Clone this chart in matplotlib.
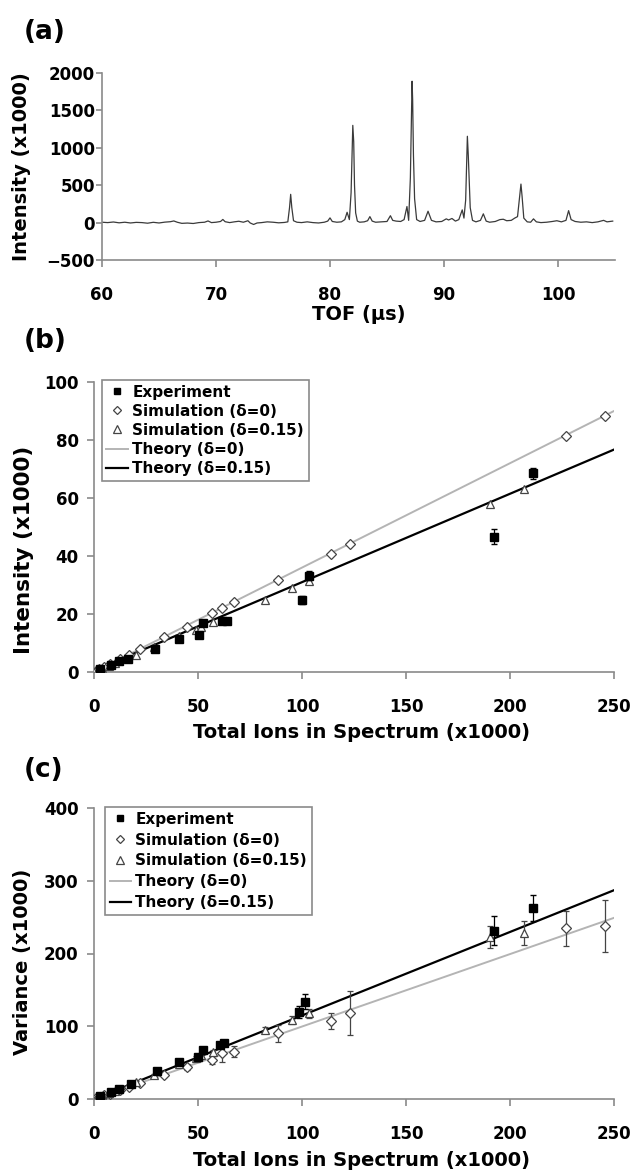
import matplotlib
matplotlib.use("Agg")
import matplotlib.pyplot as plt
from matplotlib.lines import Line2D

W, H = 634, 1173
plt.rcParams['font.family'] = ['DejaVu Sans']
plt.rcParams['font.weight'] = 'bold'

# ---------------- (a) TOF spectrum ----------------
tof = [60.0, 60.5, 61.0, 61.5, 62.0, 62.5, 63.0, 63.5, 64.0, 64.5,
       65.0, 65.5, 66.0, 66.3, 66.6, 67.0, 67.5, 68.0, 68.5, 69.0,
       69.3, 69.6, 70.0, 70.4, 70.6, 70.8, 71.2, 71.6, 72.0, 72.4,
       72.8, 73.0, 73.3, 73.6, 74.0, 74.5, 75.0, 75.5, 76.0, 76.3,
       76.45, 76.55, 76.65, 76.8, 77.1, 77.5, 78.0, 78.5, 79.0, 79.5,
       79.8, 80.0, 80.2, 80.6, 81.0, 81.3, 81.5, 81.7, 81.85, 82.0,
       82.08, 82.15, 82.25, 82.4, 82.6, 83.0, 83.3, 83.5, 83.7, 84.0,
       84.5, 85.0, 85.3, 85.5, 85.8, 86.2, 86.5, 86.75, 86.9, 87.05,
       87.2, 87.25, 87.32, 87.42, 87.6, 87.9, 88.3, 88.6, 88.9, 89.3,
       89.8, 90.2, 90.4, 90.7, 91.0, 91.3, 91.6, 91.75, 91.9, 92.05,
       92.13, 92.2, 92.3, 92.5, 92.8, 93.2, 93.45, 93.7, 94.0, 94.5,
       94.9, 95.2, 95.5, 95.9, 96.2, 96.45, 96.6, 96.75, 96.85, 97.0,
       97.3, 97.6, 97.85, 98.1, 98.5, 99.0, 99.5, 99.9, 100.3, 100.7,
       100.93, 101.15, 101.5, 102.0, 102.5, 103.0, 103.5, 104.0, 104.3, 104.8]
intensity = [5, 0, 8, -3, 5, -5, 3, 0, -8, 4,
             -5, 6, 12, 22, 5, -10, -6, -12, 0, 5,
             22, 0, 5, 15, 42, 12, 0, 10, 18, 5,
             25, -5, -25, -5, 0, 10, 5, -3, 2, 10,
             200, 378, 200, 25, 5, 0, 10, 0, -5, 5,
             20, 63, 15, 5, 10, 40, 138, 40, 400, 1300,
             1080, 500, 130, 20, 5, 10, 25, 80, 20, 5,
             10, 15, 92, 30, 20, 15, 40, 215, 30, 600,
             1890, 1640, 900, 320, 40, 15, 30, 152, 30, 10,
             15, 50, 35, 55, 20, 40, 170, 60, 300, 1154,
             900, 600, 200, 30, 10, 30, 117, 20, 5, 15,
             40, 45, 25, 30, 60, 80, 300, 515, 350, 60,
             10, 5, 50, 10, 0, 5, 15, 25, 10, 30,
             160, 40, 15, 5, 10, 0, 10, 30, 10, 20]

# ---------------- (b) Intensity ----------------
b_exp_x = [3, 8, 12, 16.5, 29.3, 41, 50.6, 52.5, 61.5, 64, 99.8, 103.5, 192.5, 211.2]
b_exp_y = [1.0, 2.5, 3.8, 4.5, 8.0, 11.3, 12.8, 16.8, 17.5, 17.5, 24.8, 33.2, 46.7, 68.5]
b_exp_err = [0.3, 0.4, 0.5, 0.5, 0.6, 0.6, 0.7, 0.7, 0.8, 0.8, 1.5, 1.5, 2.5, 1.8]

sim0_x = [1, 2.5, 5, 7.5, 12.3, 17, 22.1, 33.8, 44.6, 56.9, 61.5, 67.5, 88.3, 113.8, 123, 227, 245.7]
b_sim0_y = [0.4, 0.9, 1.8, 2.7, 4.5, 5.9, 7.8, 12.0, 15.6, 20.3, 21.9, 24.2, 31.8, 40.7, 44.1, 81.5, 88.4]

sim15_x = [1.5, 4, 7, 10, 20, 29, 41, 49, 51.4, 57, 82.2, 95.4, 103.5, 190.4, 206.7]
b_sim15_y = [0.4, 1.2, 2.1, 3.1, 6.0, 8.6, 12.3, 14.5, 15.6, 17.4, 24.8, 28.8, 31.5, 57.9, 63.1]

theory_x = [0, 250]
b_theory0_y = [0, 90]
b_theory15_y = [0.5, 76.7]

# ---------------- (c) Variance ----------------
c_exp_x = [3, 8, 12, 17.6, 30.1, 40.9, 50, 52.6, 60.6, 62.5, 98.7, 101.4, 192.5, 211.2]
c_exp_y = [4, 10, 14, 20, 39, 51.3, 58, 67.4, 74.2, 77.5, 120, 133.8, 231, 263]
c_exp_err = [1, 1.5, 2, 2, 3, 3, 4, 4, 4, 4, 8, 10, 20, 18]

c_sim0_y = [1, 2.5, 5, 7.5, 12.5, 17, 22.4, 33, 44.4, 53.6, 62.8, 65, 90.3, 107.8, 117.8, 234.6, 237.8]
c_sim0_err = [0.3, 0.5, 1, 1, 1.5, 2, 2, 3, 4, 5, 12, 7.5, 11.4, 11, 30, 24, 35.5]

c_sim15_y = [1.7, 4.6, 8, 11.5, 23, 33, 48, 56, 60.5, 65, 94.8, 108.6, 117.8, 223, 228.6]
c_sim15_err = [0.3, 0.5, 1, 1, 2, 2, 3, 3, 3, 3, 4, 5, 6, 15, 16.5]

c_theory0_y = [0, 249]
c_theory15_y = [0, 287]

legend_labels = ["Experiment", "Simulation (δ=0)", "Simulation (δ=0.15)",
                 "Theory (δ=0)", "Theory (δ=0.15)"]

SPINE = '#8a8a8a'
GRAY_LINE = '#b4b4b4'
EDGE = '#444444'

fig = plt.figure(figsize=(W / 100, H / 100), dpi=100)


def ax_px(left, top, right, bottom):
    return fig.add_axes([left / W, 1 - bottom / H, (right - left) / W, (bottom - top) / H])


def style(ax):
    for s in ['top', 'right']:
        ax.spines[s].set_visible(False)
    for s in ['left', 'bottom']:
        ax.spines[s].set_color(SPINE)
        ax.spines[s].set_linewidth(1.2)
    ax.tick_params(axis='both', colors=SPINE, labelcolor='black', labelsize=12,
                   length=5, width=1.2, direction='out')
    for lab in ax.get_xticklabels() + ax.get_yticklabels():
        lab.set_fontweight('bold')


# ---- (a)
axa = ax_px(102, 73, 615, 260)
axa.plot(tof, intensity, color='#3a3a3a', lw=0.9)
axa.set_xlim(60, 105)
axa.set_ylim(-500, 2000)
axa.set_xticks([60, 70, 80, 90, 100])
axa.set_yticks([-500, 0, 500, 1000, 1500, 2000])
style(axa)
axa.tick_params(axis='x', pad=14)
axa.tick_params(axis='y', pad=1, length=4)
axa.set_xlabel("TOF (μs)", fontsize=14, fontweight='bold', va='center')
axa.xaxis.set_label_coords(0.5, -0.29)
axa.set_ylabel("Intensity (x1000)", fontsize=14, fontweight='bold', va='center')
axa.yaxis.set_label_coords(-0.156, 0.5)


def scatter_panel(ax, exp_x, exp_y, exp_err, s0_y, s0_err, s15_y, s15_err, t0, t15):
    ax.plot(theory_x, t0, color=GRAY_LINE, lw=1.4, zorder=2)
    ax.plot(theory_x, t15, color='black', lw=1.6, zorder=2)
    ax.errorbar(sim0_x, s0_y, yerr=s0_err, fmt='D', ms=5, mfc='white', mec=EDGE,
                mew=0.9, ecolor=EDGE, elinewidth=0.9, capsize=2.5, zorder=3)
    ax.errorbar(sim15_x, s15_y, yerr=s15_err, fmt='^', ms=6, mfc='white', mec=EDGE,
                mew=0.9, ecolor=EDGE, elinewidth=0.9, capsize=2.5, zorder=4)
    ax.errorbar(exp_x, exp_y, yerr=exp_err, fmt='s', ms=5.5, mfc='black', mec='black',
                ecolor='black', elinewidth=0.9, capsize=2.5, zorder=5)
    ax.set_xlim(0, 250)
    ax.set_xticks([0, 50, 100, 150, 200, 250])
    style(ax)
    ax.tick_params(axis='x', pad=14)
    ax.tick_params(axis='y', pad=6)
    handles = [
        Line2D([], [], ls='none', marker='s', ms=5, mfc='black', mec='black'),
        Line2D([], [], ls='none', marker='D', ms=4.5, mfc='white', mec=EDGE, mew=0.9),
        Line2D([], [], ls='none', marker='^', ms=5.5, mfc='white', mec=EDGE, mew=0.9),
        Line2D([], [], color=GRAY_LINE, lw=1.4),
        Line2D([], [], color='black', lw=1.6),
    ]
    return handles


# ---- (b)
axb = ax_px(94, 382, 614, 672)
hb = scatter_panel(axb, b_exp_x, b_exp_y, b_exp_err, b_sim0_y, None, b_sim15_y, None,
                   b_theory0_y, b_theory15_y)
axb.set_ylim(0, 100)
axb.set_yticks([0, 20, 40, 60, 80, 100])
axb.set_xlabel("Total Ions in Spectrum (x1000)", fontsize=14, fontweight='bold', va='center')
axb.xaxis.set_label_coords(0.514, -0.21)
axb.set_ylabel("Intensity (x1000)", fontsize=15.5, fontweight='bold', va='center')
axb.yaxis.set_label_coords(-0.135, 0.42)
legb = axb.legend(hb, legend_labels, loc='upper left', bbox_to_anchor=(0.015, 1.007),
                  borderaxespad=0, fancybox=False, edgecolor=SPINE, framealpha=1,
                  prop={'size': 11, 'weight': 'bold'}, handlelength=1.4, handletextpad=0.3,
                  labelspacing=0.27, borderpad=0.3)
legb.get_frame().set_linewidth(1.2)

# ---- (c)
axc = ax_px(94, 808, 614, 1099)
hc = scatter_panel(axc, c_exp_x, c_exp_y, c_exp_err, c_sim0_y, c_sim0_err, c_sim15_y, c_sim15_err,
                   c_theory0_y, c_theory15_y)
axc.set_ylim(0, 400)
axc.set_yticks([0, 100, 200, 300, 400])
axc.set_xlabel("Total Ions in Spectrum (x1000)", fontsize=14, fontweight='bold', va='center')
axc.xaxis.set_label_coords(0.514, -0.21)
axc.set_ylabel("Variance (x1000)", fontsize=14, fontweight='bold', va='center')
axc.yaxis.set_label_coords(-0.137, 0.47)
legc = axc.legend(hc, legend_labels, loc='upper left', bbox_to_anchor=(0.021, 1.003),
                  borderaxespad=0, fancybox=False, edgecolor=SPINE, framealpha=1,
                  prop={'size': 11, 'weight': 'bold'}, handlelength=1.4, handletextpad=0.3,
                  labelspacing=0.38, borderpad=0.3)
legc.get_frame().set_linewidth(1.2)

# panel letters
for txt, yc in [("(a)", 32), ("(b)", 341), ("(c)", 770)]:
    fig.text(24 / W, 1 - yc / H, txt, fontsize=19, fontweight='bold', ha='left', va='center')

fig.savefig("out.png", dpi=100)
